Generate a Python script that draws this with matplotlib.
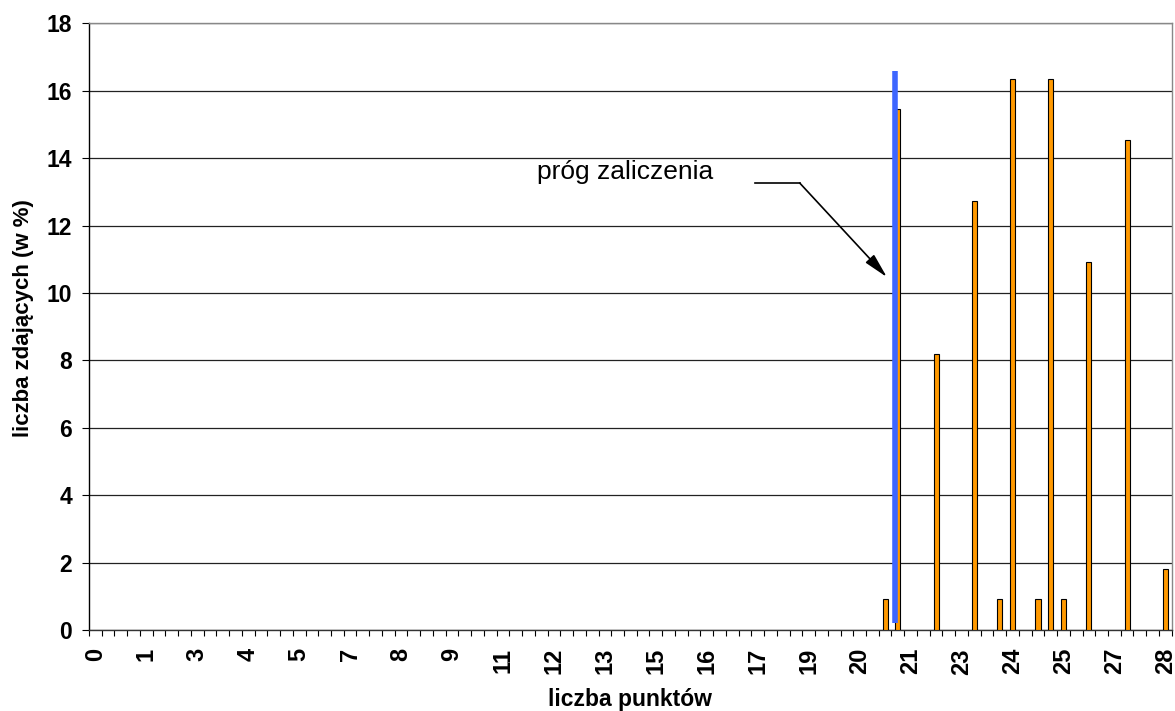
import matplotlib
matplotlib.use("Agg")
import matplotlib.pyplot as plt
from matplotlib.ticker import FixedLocator, NullFormatter

plt.rcParams['font.family'] = ['Liberation Sans', 'DejaVu Sans']

# Category axis: scores 0 .. 28 in steps of 1/3 (85 categories)
n_categories = 85
label_positions = [0, 4, 8, 12, 16, 20, 24, 28, 32, 36, 40, 44, 48, 52, 56, 60, 64, 68, 72, 76, 80, 84]
tick_labels = ["0", "1", "3", "4", "5", "7", "8", "9", "11", "12", "13", "15",
               "16", "17", "19", "20", "21", "23", "24", "25", "27", "28"]

# Bars: score (in points) and share of candidates (%)
bar_points = [20.67, 21, 22, 23, 23.67, 24, 24.67, 25, 25.33, 26, 27, 28]
bar_values = [0.91, 15.45, 8.18, 12.73, 0.91, 16.36, 0.91, 16.36, 0.91, 10.91, 14.55, 1.82]

# Pass threshold marker (blue line) in category units
threshold_pos = 62.74
threshold_bottom = 0.2
threshold_top = 16.57

annot_text = "próg zaliczenia"

fig = plt.figure(figsize=(11.75, 7.11), dpi=100)
ax = fig.add_axes([89/1175, 1 - 630/711, (1171.7 - 89)/1175, (630 - 23.3)/711])

bar_x = [round(p * 3) for p in bar_points]
ax.bar(bar_x, bar_values, width=0.4, color='#FF9900', edgecolor='black',
       linewidth=0.8, zorder=3)

ax.plot([threshold_pos, threshold_pos], [threshold_bottom, threshold_top],
        color='#3D66FF', linewidth=4.0, solid_capstyle='butt', zorder=4)

ax.set_xlim(-0.5, n_categories - 0.5)
ax.set_ylim(0, 18)
ax.set_yticks(range(0, 19, 2))
ax.yaxis.grid(True, color='#222222', linewidth=0.9, zorder=0)
ax.set_axisbelow(True)

ax.xaxis.set_major_locator(FixedLocator(label_positions))
ax.set_xticklabels(tick_labels, rotation=90, fontweight='bold', fontsize=17)
ax.xaxis.set_minor_locator(FixedLocator([i - 0.5 for i in range(n_categories + 1)]))
ax.xaxis.set_minor_formatter(NullFormatter())
ax.tick_params(axis='x', which='major', length=0, pad=13)
ax.tick_params(axis='x', which='minor', length=4, width=0.8, color='black', direction='out')
ax.tick_params(axis='y', which='major', length=5, width=0.8, pad=7, labelsize=16.5)
for lab in ax.get_yticklabels():
    lab.set_fontweight('bold')

ax.spines['left'].set_color('black')
ax.spines['bottom'].set_color('#333333')
ax.spines['top'].set_color('#888888')
ax.spines['right'].set_color('#888888')
for s in ax.spines.values():
    s.set_linewidth(1.0)

ax.set_xlabel("liczba punktów", fontweight='bold', fontsize=16.5, labelpad=10)
ax.set_ylabel("liczba zdających (w %)", fontweight='bold', fontsize=16)
ax.yaxis.set_label_coords(-0.0508, 0.514)

ax.text(34.66, 13.59, annot_text, fontsize=19, va='center', ha='left', zorder=5)
ax.plot([51.78, 55.3], [13.26, 13.26], color='black', linewidth=1.2, zorder=5)
ax.annotate("", xy=(62.14, 10.47), xytext=(55.3, 13.26),
            arrowprops=dict(arrowstyle='-|>,head_length=1.5,head_width=0.35',
                            color='black', lw=1.2, shrinkA=0, shrinkB=0), zorder=5)

fig.savefig("out.png", dpi=100)
